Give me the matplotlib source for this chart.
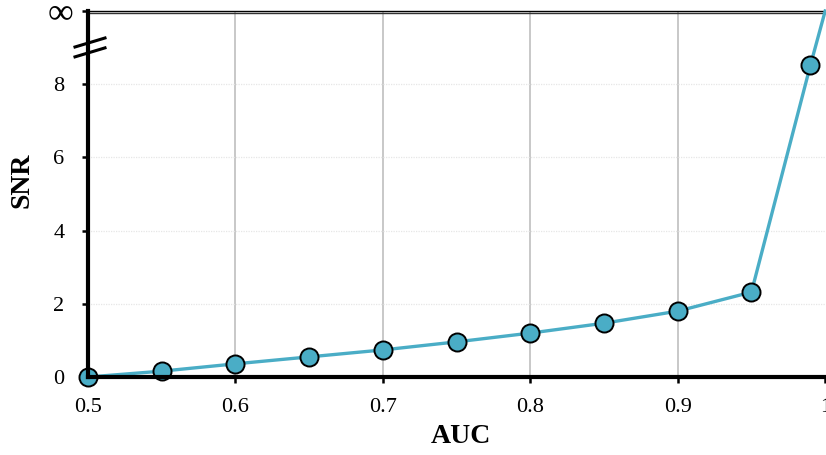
import matplotlib
matplotlib.use("Agg")
import matplotlib.pyplot as plt
import matplotlib.transforms as mtransforms

auc = [0.5, 0.55, 0.6, 0.65, 0.7, 0.75, 0.8, 0.85, 0.9, 0.95, 0.99]
snr = [0.0, 0.16, 0.36, 0.55, 0.74, 0.96, 1.2, 1.47, 1.8, 2.32, 8.52]
inf_auc = 1.0
inf_level = 10.0
xticks = [0.5, 0.6, 0.7, 0.8, 0.9, 1.0]
xticklabels = ["0.5", "0.6", "0.7", "0.8", "0.9", "1"]
yticks = [0, 2, 4, 6, 8, 10]
yticklabels = ["0", "2", "4", "6", "8", "∞"]

plt.rcParams['font.family'] = ['Liberation Serif', 'DejaVu Serif']
color = "#4aadc6"

fig = plt.figure(figsize=(8.26, 4.55), dpi=100)
ax = fig.add_axes([0.1065, 0.1714, 0.8925, 0.8044])

ax.set_xlim(0.5, 1.0)
ax.set_ylim(0, 10)

# grid
for x in xticks[1:-1]:
    ax.axvline(x, color="#c4c4c4", lw=1.3, zorder=1)
for y in yticks[1:-1]:
    ax.axhline(y, color="#e6e6e6", lw=0.9, ls=(0, (1, 1)), zorder=1)

ax.plot(auc + [inf_auc], snr + [inf_level], color=color, lw=2.4, zorder=3, clip_on=False)
ax.plot(auc, snr, ls="none", marker="o", ms=13, mfc=color, mec="black", mew=1.4,
        zorder=4, clip_on=False)

ax.set_xticks(xticks)
ax.set_xticklabels(xticklabels, fontsize=16)
ax.set_yticks(yticks)
ax.set_yticklabels(yticklabels[:-1] + [""], fontsize=16)
ax.tick_params(axis="both", direction="out", length=4.5, width=1.8, color="black")
ax.tick_params(axis="x", pad=10.5)
ax.tick_params(axis="y", pad=12.5)

# the infinity label, drawn as its own text next to the top tick
tr_inf = mtransforms.blended_transform_factory(fig.transFigure, ax.transData) + \
    mtransforms.ScaledTranslation(0, -3 / 100, fig.dpi_scale_trans)
ax.text(73 / 826, inf_level, yticklabels[-1], transform=tr_inf, ha="right",
        va="center", fontsize=26, clip_on=False)

for s in ["left", "bottom"]:
    ax.spines[s].set_linewidth(3)
    ax.spines[s].set_zorder(5)
ax.spines["right"].set_visible(False)
ax.spines["top"].set_linewidth(1.0)
ax.axhline(inf_level - 0.06, color="#333333", lw=1.0, zorder=2, clip_on=False)

ax.set_xlabel("AUC", fontsize=20, fontweight="bold")
ax.set_ylabel("SNR", fontsize=20, fontweight="bold")
ax.xaxis.set_label_coords(0.506, -0.128)
ax.yaxis.set_label_coords(-0.072, 0.538)

# break marks on the y axis
trans = mtransforms.blended_transform_factory(fig.transFigure, ax.transData)
for yc in [9.14, 8.87]:
    ax.plot([75 / 826, 105 / 826], [yc - 0.123, yc + 0.123], transform=trans,
            color="black", lw=2.2, clip_on=False, zorder=6)

fig.savefig("out.png", dpi=100)
